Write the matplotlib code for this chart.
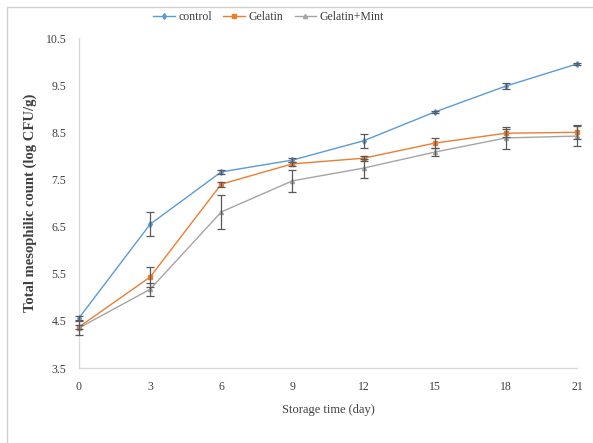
import matplotlib.pyplot as plt
from matplotlib.patches import Rectangle

days = [0, 3, 6, 9, 12, 15, 18, 21]

control = [4.56, 6.55, 7.66, 7.91, 8.32, 8.93, 9.48, 9.95]
control_err = [0.05, 0.25, 0.05, 0.05, 0.15, 0.03, 0.07, 0.03]

gelatin = [4.37, 5.43, 7.40, 7.83, 7.95, 8.27, 8.48, 8.50]
gelatin_err = [0.05, 0.22, 0.05, 0.05, 0.05, 0.10, 0.08, 0.15]

mint = [4.35, 5.17, 6.81, 7.47, 7.74, 8.08, 8.38, 8.42]
mint_err = [0.15, 0.14, 0.36, 0.23, 0.20, 0.09, 0.24, 0.22]

series = [
    ("control", control, control_err, "#5B9BD5", "d", 3),
    ("Gelatin", gelatin, gelatin_err, "#ED7D31", "s", 3.5),
    ("Gelatin+Mint", mint, mint_err, "#A5A5A5", "^", 3),
]

plt.rcParams["font.family"] = ["Liberation Serif", "DejaVu Serif"]

fig = plt.figure(figsize=(5.93, 4.43), dpi=100)
ax = fig.add_axes([0.1332, 0.1693, 0.8398, 0.7449])

for label, vals, errs, color, marker, ms in series:
    ax.plot(days, vals, color=color, marker=marker, markersize=ms,
            linewidth=1.0, label=label, clip_on=False, zorder=3)
    ax.errorbar(days, vals, yerr=errs, fmt="none", ecolor="#595959",
                elinewidth=0.9, capsize=3, capthick=0.9, clip_on=False, zorder=4)

ax.set_xlim(0, 21)
ax.set_ylim(3.5, 10.5)
ax.set_xticks(days)
ax.set_yticks([3.5, 4.5, 5.5, 6.5, 7.5, 8.5, 9.5, 10.5])
ax.set_yticklabels(["3.5", "4.5", "5.5", "6.5", "7.5", "8.5", "9.5", "10.5"])
ax.tick_params(length=0, labelsize=8.5, colors="#404040", pad=9)

for side in ["top", "right"]:
    ax.spines[side].set_visible(False)
for side in ["left", "bottom"]:
    ax.spines[side].set_color("#D9D9D9")
    ax.spines[side].set_linewidth(1.0)

ax.set_xlabel("Storage time (day)", fontsize=9, color="#404040", labelpad=8)
ax.set_ylabel("Total mesophilic count (log CFU/g)", fontsize=10.5, fontweight="bold",
              color="#404040", labelpad=6)

fig.legend(loc="center", bbox_to_anchor=(0.453, 0.962), ncol=3, frameon=False,
           fontsize=8.5, handlelength=1.8, columnspacing=1.0, handletextpad=0.3,
           labelcolor="#404040")

fig.patches.append(Rectangle((7 / 593, -0.1), 1.2, 1 - 6.5 / 443 + 0.1,
                             transform=fig.transFigure, fill=False,
                             edgecolor="#D0D0D0", linewidth=1.0))

fig.savefig("out.png", dpi=100)
